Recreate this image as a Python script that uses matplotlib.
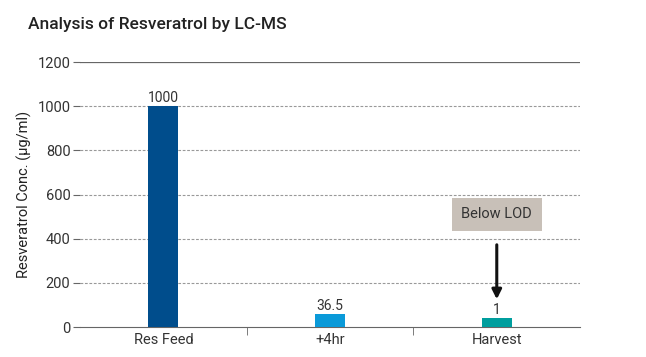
import numpy as np
import matplotlib.pyplot as plt

plt.rcParams['font.family'] = ['Roboto', 'DejaVu Sans']

categories = ['Res Feed', '+4hr', 'Harvest']
bar_heights = [1000, 58, 41]        # drawn heights as seen in the picture
value_labels = ['1000', '36.5', '1']
colors = ['#004d8c', '#0a9ad9', '#009e9e']
yticks = [0, 200, 400, 600, 800, 1000, 1200]

fig = plt.figure(figsize=(6.46, 3.57), dpi=100)
ax = fig.add_axes([0.124, 0.084, 0.774, 0.742])

x = np.arange(len(categories))
bars = ax.bar(x, bar_heights, width=0.18, color=colors, zorder=3)

for b, lab in zip(bars, value_labels):
    ax.text(b.get_x() + b.get_width() / 2, b.get_height() + 6, lab,
            ha='center', va='bottom', fontsize=10, color='#333333', zorder=4)

ax.set_xlim(-0.5, 2.5)
ax.set_ylim(0, 1200)
ax.set_yticks(yticks)
ax.set_yticklabels([str(t) for t in yticks], fontsize=10.5, color='#333333')
for t in yticks[1:-1]:
    ax.axhline(t, color='#999999', lw=0.8, ls=(0, (2.5, 1.5)), zorder=1)
ax.axhline(1200, color='#666666', lw=0.9, zorder=1)

ax.set_xticks(x)
ax.set_xticklabels(categories, fontsize=10.5, color='#333333')
ax.tick_params(axis='x', length=0, pad=4)
ax.set_xticks([0.5, 1.5], minor=True)
ax.tick_params(axis='x', which='minor', length=6, color='#666666', direction='out')
ax.tick_params(axis='y', length=5, color='#666666', pad=2)

for s in ['top', 'right', 'left']:
    ax.spines[s].set_visible(False)
ax.spines['bottom'].set_color('#666666')

ax.set_ylabel('Resveratrol Conc. (µg/ml)', fontsize=10.5, color='#222222', labelpad=4)

ax.annotate('', xy=(2, 113), xytext=(2, 385),
            arrowprops=dict(arrowstyle='-|>', color='#111111', lw=2.2, mutation_scale=14), zorder=5)
ax.text(2, 511, 'Below LOD', ha='center', va='center', fontsize=10.5, color='#333333',
        bbox=dict(boxstyle='square,pad=0.65', fc='#c8c0b8', ec='none'), zorder=5)

fig.text(0.043, 0.92, 'Analysis of Resveratrol by LC-MS', fontsize=12.5,
         fontweight='medium', color='#222222')

fig.savefig('out.png', dpi=100)
